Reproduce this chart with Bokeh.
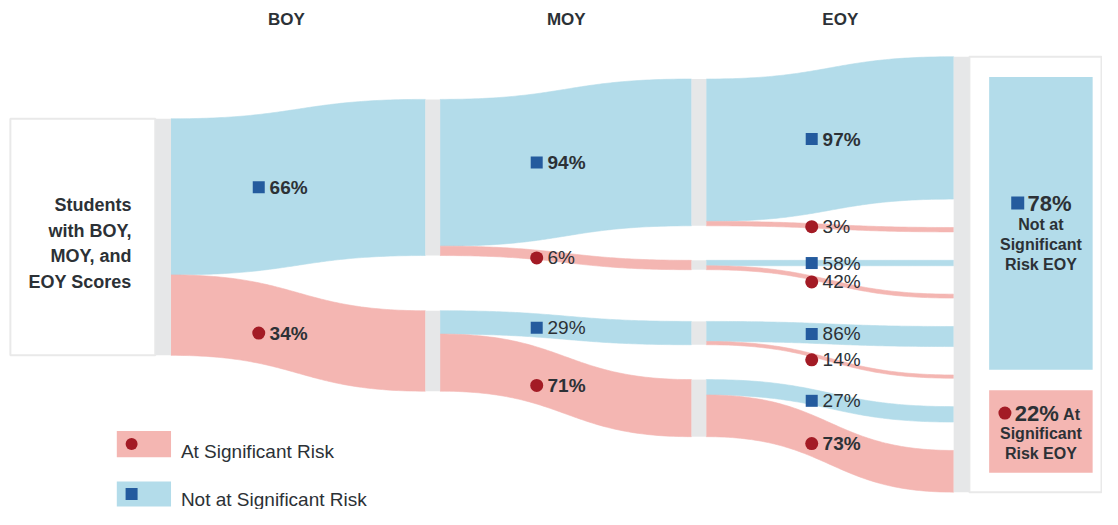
import numpy as np
from bokeh.plotting import figure
from bokeh.models import Range1d
from bokeh.core.properties import value
from bokeh.embed import file_html
from bokeh.resources import INLINE

# ---------------- data ----------------
stages = ["BOY", "MOY", "EOY"]
statuses = ["Not at Significant Risk", "At Significant Risk"]   # 0 = not at risk, 1 = at risk
boy_pct = [66, 34]                                # share of all students at BOY
moy_pct = [94, 6, 29, 71]                         # within BOY groups (NR, R): NR, R at MOY
eoy_pct = [97, 3, 58, 42, 86, 14, 27, 73]         # within each MOY group: NR, R at EOY
eoy_summary_pct = [78, 22]                        # NR, R at EOY overall
root_lines = ["Students", "with BOY,", "MOY, and", "EOY Scores"]
summary_nr_lines = ["Not at", "Significant", "Risk EOY"]
summary_r_lines = ["At", "Significant", "Risk EOY"]

# ---------------- style / layout ----------------
BLUE, RED, GRAY = "#b3dcea", "#f4b6b2", "#e6e7e8"
DBLUE, DRED, INK, BORDER = "#245b9e", "#a31b25", "#2c3136", "#e9e9e9"
FONT = value("Liberation Sans")
PX = 2.44                      # pixels per percent of all students
node_x = [157, 431, 701, 967]
node_w = [16, 15, 15, 16]
root_top = 122
boy_tops = [102, 320]
moy_tops = [81, 268, 331, 391]
eoy_top = 58
eoy_gap = 29.3
header_x = [290, 574, 852]
marker_x = [262, 544, 823]

p = figure(width=1102, height=509, output_backend="svg", toolbar_location=None,
           x_range=Range1d(0, 1118), y_range=Range1d(525, 0),
           x_axis_location=None, y_axis_location=None, min_border=0)
p.outline_line_color = None
p.grid.visible = False
p.background_fill_color = "white"

# ---------------- shares of the whole ----------------
boy_share = [float(v) for v in boy_pct]
moy_share = [boy_share[i // 2] * moy_pct[i] / 100 for i in range(4)]
eoy_share = [moy_share[j // 2] * eoy_pct[j] / 100 for j in range(8)]

def band(x0, y0, x1, y1, h, n=80):
    t = np.linspace(0, 1, n)
    xm = (x0 + x1) / 2
    bx = (1 - t) ** 3 * x0 + 3 * (1 - t) ** 2 * t * xm + 3 * (1 - t) * t ** 2 * xm + t ** 3 * x1
    by = (1 - t) ** 3 * y0 + 3 * (1 - t) ** 2 * t * y0 + 3 * (1 - t) * t ** 2 * y1 + t ** 3 * y1
    return list(np.concatenate([bx, bx[::-1]])), list(np.concatenate([by, (by + h)[::-1]]))

links = []  # (stage, x0, y0, x1, y1, h, status, pct, bold)
# root -> BOY
acc = root_top
for i, s in enumerate(boy_share):
    h = s * PX
    links.append((0, node_x[0] + node_w[0], acc, node_x[1], boy_tops[i], h, i, boy_pct[i], True))
    acc += h
# BOY -> MOY
moy_stay = []
for g in range(2):
    acc = boy_tops[g]
    for k in (2 * g, 2 * g + 1):
        h = moy_share[k] * PX
        stay = (k % 2) == g
        moy_stay.append(stay)
        links.append((1, node_x[1] + node_w[1], acc, node_x[2], moy_tops[k], h, k % 2, moy_pct[k], stay))
        acc += h
# MOY -> EOY
tgt = eoy_top
for k in range(4):
    acc = moy_tops[k]
    for j in (2 * k, 2 * k + 1):
        h = eoy_share[j] * PX
        bold = moy_stay[k] and (j % 2 == k % 2)
        links.append((2, node_x[2] + node_w[2], acc, node_x[3], tgt, h, j % 2, eoy_pct[j], bold))
        acc += h
        tgt += h + eoy_gap
eoy_bottom = tgt - eoy_gap

# ---------------- boxes ----------------
root_bottom = root_top + sum(boy_share) * PX
p.quad(left=[10], right=[node_x[0]], top=[root_top], bottom=[root_bottom],
       fill_color="white", line_color=BORDER, line_width=2)
p.quad(left=[node_x[3] + node_w[3]], right=[1117], top=[eoy_top], bottom=[eoy_bottom],
       fill_color="white", line_color=BORDER, line_width=2)

# ---------------- links ----------------
xs, ys, cols = [], [], []
for (st, x0, y0, x1, y1, h, status, pct, bold) in links:
    bx, by = band(x0, y0, x1, y1, h)
    xs.append(bx); ys.append(by); cols.append(BLUE if status == 0 else RED)
p.patches(xs, ys, fill_color=cols, line_color=cols, line_width=0.6)

# ---------------- nodes ----------------
nl, nr, nt, nb = [], [], [], []
def node(col, top, h):
    nl.append(node_x[col]); nr.append(node_x[col] + node_w[col]); nt.append(top); nb.append(top + h)
node(0, root_top, sum(boy_share) * PX)
for i in range(2):
    node(1, boy_tops[i], boy_share[i] * PX)
for k in range(4):
    node(2, moy_tops[k], moy_share[k] * PX)
node(3, eoy_top, eoy_bottom - eoy_top)
p.quad(left=nl, right=nr, top=nt, bottom=nb, fill_color=GRAY, line_color=None)

# ---------------- link labels ----------------
for bold_flag in (True, False):
    tx, ty, tt = [], [], []
    for (st, x0, y0, x1, y1, h, status, pct, bold) in links:
        if bold != bold_flag:
            continue
        tx.append(marker_x[st] + 11); ty.append((y0 + y1 + h) / 2); tt.append(f"{pct}%")
    p.text(tx, ty, text=tt, text_font=FONT, text_font_size="19px",
           text_font_style="bold" if bold_flag else "normal", text_color=INK,
           text_baseline="middle", text_align="left")
for status in (0, 1):
    mx = [marker_x[l[0]] for l in links if l[6] == status]
    my = [(l[2] + l[4] + l[5]) / 2 for l in links if l[6] == status]
    if status == 0:
        p.scatter(mx, my, marker="square", size=12, fill_color=DBLUE, line_color=None)
    else:
        p.scatter(mx, my, marker="circle", size=13, fill_color=DRED, line_color=None)

# ---------------- headers ----------------
p.text(header_x, [20] * 3, text=stages, text_font=FONT, text_font_size="17px",
       text_font_style="bold", text_color=INK, text_align="center", text_baseline="middle")

# ---------------- root label ----------------
rc = (root_top + root_bottom) / 2 + 6
p.text([133] * 4, [rc - 39 + 26.5 * i for i in range(4)], text=root_lines, text_font=FONT,
       text_font_size="18px", text_font_style="bold", text_color=INK,
       text_align="right", text_baseline="middle")

# ---------------- EOY summary boxes ----------------
bx0, bx1 = 1003, 1108
in_top, in_bot, in_gap = eoy_top + 21, eoy_bottom - 20, 21
s = (in_bot - in_top - in_gap) / 100
nr_top, nr_bot = in_top, in_top + eoy_summary_pct[0] * s
r_top, r_bot = nr_bot + in_gap, nr_bot + in_gap + eoy_summary_pct[1] * s
p.quad(left=[bx0, bx0], right=[bx1, bx1], top=[nr_top, r_top], bottom=[nr_bot, r_bot],
       fill_color=[BLUE, RED], line_color=None)
cx = (bx0 + bx1) / 2
c_nr = (nr_top + nr_bot) / 2
p.scatter([1032], [c_nr - 21], marker="square", size=13, fill_color=DBLUE, line_color=None)
p.text([1042], [c_nr - 21], text=[f"{eoy_summary_pct[0]}%"], text_font=FONT, text_font_size="22px",
       text_font_style="bold", text_color=INK, text_align="left", text_baseline="middle")
p.text([cx] * 3, [c_nr + 1 + 20.5 * i for i in range(3)], text=summary_nr_lines, text_font=FONT,
       text_font_size="16px", text_font_style="bold", text_color=INK,
       text_align="center", text_baseline="middle")
c_r = (r_top + r_bot) / 2
p.scatter([1019], [c_r - 19], marker="circle", size=13, fill_color=DRED, line_color=None)
p.text([1029], [c_r - 19], text=[f"{eoy_summary_pct[1]}%"], text_font=FONT, text_font_size="22px",
       text_font_style="bold", text_color=INK, text_align="left", text_baseline="middle")
p.text([1078], [c_r - 18], text=[summary_r_lines[0]], text_font=FONT, text_font_size="16px",
       text_font_style="bold", text_color=INK, text_align="left", text_baseline="middle")
p.text([cx] * 2, [c_r + 2 + 20.5 * i for i in range(2)], text=summary_r_lines[1:], text_font=FONT,
       text_font_size="16px", text_font_style="bold", text_color=INK,
       text_align="center", text_baseline="middle")

# ---------------- legend ----------------
p.quad(left=[118, 118], right=[173, 173], top=[444, 496], bottom=[471, 522],
       fill_color=[RED, BLUE], line_color=None)
p.scatter([133], [457.5], marker="circle", size=12, fill_color=DRED, line_color=None)
p.scatter([133], [509], marker="square", size=12, fill_color=DBLUE, line_color=None)
p.text([183, 183], [465, 515], text=[statuses[1], statuses[0]], text_font=FONT,
       text_font_size="19px", text_color=INK, text_align="left", text_baseline="middle")

open("out.html", "w").write(file_html(p, INLINE))
